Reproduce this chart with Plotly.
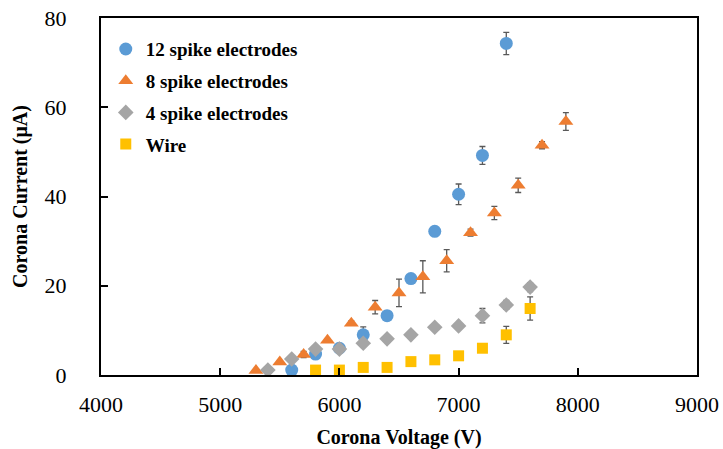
import plotly.graph_objects as go

# 12 spike electrodes
v12 = [5600, 5800, 6000, 6200, 6400, 6600, 6800, 7000, 7200, 7400]
i12 = [1.1, 4.7, 6.0, 9.0, 13.3, 21.6, 32.2, 40.5, 49.2, 74.3]
e12 = [0, 0, 0, 1.8, 0, 0, 0, 2.3, 2.0, 2.5]

# 8 spike electrodes
v8 = [5300, 5500, 5700, 5900, 6100, 6300, 6500, 6700, 6900, 7100, 7300, 7500, 7700, 7900]
i8 = [1.0, 2.9, 4.6, 7.8, 11.6, 15.2, 18.4, 22.0, 25.6, 31.9, 36.3, 42.5, 51.5, 56.8]
e8 = [0, 0, 0.7, 0, 0.5, 1.5, 3.1, 3.6, 2.5, 0.8, 1.5, 1.6, 0.8, 2.0]

# 4 spike electrodes
v4 = [5400, 5600, 5800, 6000, 6200, 6400, 6600, 6800, 7000, 7200, 7400, 7600]
i4 = [1.1, 3.6, 5.8, 5.8, 7.1, 8.1, 9.0, 10.7, 11.0, 13.3, 15.7, 19.7]
e4 = [0, 0, 0.5, 0, 0, 0, 0, 0, 0, 1.6, 1.0, 1.0]

# Wire
vw = [5800, 6000, 6200, 6400, 6600, 6800, 7000, 7200, 7400, 7600]
iw = [1.1, 1.1, 1.7, 1.7, 3.0, 3.4, 4.3, 6.0, 9.0, 14.9]
ew = [0, 0, 0.4, 0.4, 0, 0, 0, 0, 1.9, 2.6]

series = [
    ("12 spike electrodes", v12, i12, e12, "#5B9BD5", "circle", 13),
    ("8 spike electrodes", v8, i8, e8, "#ED7D31", "triangle-up", 13),
    ("4 spike electrodes", v4, i4, e4, "#A5A5A5", "diamond", 12),
    ("Wire", vw, iw, ew, "#FFC000", "square", 11),
]

FONT = "Liberation Serif"

fig = go.Figure()
for k, (name, xs, ys, es, col, sym, sz) in enumerate(series):
    fig.add_trace(go.Scatter(
        x=xs, y=ys, mode="markers", name=name, legendgroup=f"g{k}",
        marker=dict(color=col, symbol=sym, size=sz, line=dict(width=0)),
        error_y=dict(type="data", array=es, visible=True, color="#595959",
                     thickness=1.3, width=3),
    ))

fig.update_layout(
    width=723, height=449,
    margin=dict(l=101, r=26, t=18, b=74, autoexpand=False),
    paper_bgcolor="white", plot_bgcolor="white",
    font=dict(family=FONT, color="black"),
    showlegend=True,
    legend=dict(x=0.008, y=0.966, xanchor="left", yanchor="top",
                bgcolor="rgba(0,0,0,0)", tracegroupgap=4,
                font=dict(family=FONT, size=19, color="black", weight="bold"),
                itemwidth=30),
)
fig.update_xaxes(
    range=[4000, 9000], dtick=1000, tick0=4000,
    showgrid=False, zeroline=False, automargin=False,
    showline=True, linecolor="black", linewidth=2, mirror=True,
    ticks="inside", ticklen=7, tickwidth=2, tickcolor="black",
    tickfont=dict(family=FONT, size=22, color="black"),
    ticklabelstandoff=9, ticklabeloverflow="allow",
    title=dict(text="<b>Corona Voltage (V)</b>", font=dict(family=FONT, size=20, color="black"), standoff=15),
)
fig.update_yaxes(
    range=[0, 80], dtick=20,
    showgrid=False, zeroline=False, automargin=False,
    showline=True, linecolor="black", linewidth=2, mirror=True,
    ticks="inside", ticklen=7, tickwidth=2, tickcolor="black",
    tickfont=dict(family=FONT, size=22, color="black"),
    ticklabelstandoff=28, ticklabeloverflow="allow",
    title=dict(text="<b>Corona Current (μA)</b>", font=dict(family=FONT, size=20, color="black"), standoff=12),
)

fig.write_html("out.html",
               config={"displayModeBar": False},
               post_script="document.body.style.margin='0';document.body.style.overflow='hidden';")
